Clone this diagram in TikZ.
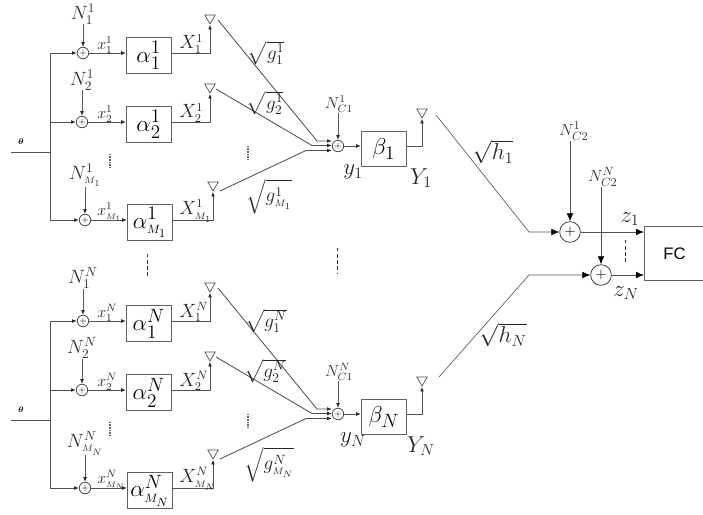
\documentclass[tikz,border=0pt]{standalone}
\usepackage{amsmath}
\usepackage{fontspec}
\setsansfont{Liberation Sans}
\usetikzlibrary{shapes.geometric,arrows.meta}
\tikzset{
  wire/.style={draw=black!68,line width=0.65pt},
  arr/.style={wire,-{Latex[length=3.6pt,width=2.8pt,black!85]}},
  bigarr/.style={wire,-{Latex[length=6pt,width=5pt,black]}},
  thinwire/.style={draw=black!65,line width=0.5pt},
  sumnode/.style={circle,draw=black!75,line width=0.55pt,minimum size=8.6pt,inner sep=0pt,font=\fontsize{6}{6}\selectfont},
  bigsum/.style={circle,draw=black!75,line width=0.6pt,minimum size=15.5pt,inner sep=0pt,font=\fontsize{11}{11}\selectfont},
  blockbox/.style={rectangle,draw=black!62,line width=0.65pt,inner sep=0pt,minimum width=33.5pt,minimum height=26.5pt,font=\fontsize{19}{20}\selectfont},
  antenna/.style={regular polygon,regular polygon sides=3,shape border rotate=180,draw=black!70,line width=0.5pt,minimum size=9pt,inner sep=0pt},
  noise/.style={inner sep=0pt,font=\fontsize{14}{14}\selectfont,text=black!80},
  smalllab/.style={inner sep=0pt,font=\fontsize{12}{12}\selectfont,text=black!85},
  outlab/.style={inner sep=0pt,font=\fontsize{13.5}{14}\selectfont,text=black!85},
  gainlab/.style={inner sep=0pt,font=\fontsize{14}{14}\selectfont,text=black!85},
  portlab/.style={inner sep=0pt,font=\fontsize{17}{17}\selectfont,text=black!85},
  thetalab/.style={inner sep=0pt,font=\fontsize{6}{6}\selectfont},
  dashv/.style={draw=black!80,line width=0.6pt,dash pattern=on 2.6pt off 2pt},
  dotv/.style={draw=black!60,line width=1.2pt,dash pattern=on 0.6pt off 0.6pt},
}
% #1 prefix, #2 id, #3 sum x, #4 y, #5 box left, #6 antenna x, #7 noise label y, #8 subscript
\newcommand{\BranchIn}[8]{%
  \node[sumnode] (#1s#2) at (#3,#4) {$+$};
  \coordinate (#1b#2) at (50,#4);
  \node[noise] (#1n#2) at (#3,#7) {$N_{#8}^{\curS}$};
  \draw[arr] (#1b#2) -- (#1s#2);
  \draw[arr,thinwire] (#1n#2.south -| #1s#2) -- (#1s#2);
  \node[smalllab,anchor=west] (#1x#2) at (97,#4-8) {$x_{#8}^{\curS}$};
  \node[blockbox,anchor=west] (#1a#2) at (#5,#4+2.5) {$\alpha_{#8}^{\curS}$};
  \draw[arr] (#1s#2) -- (#1a#2.west |- #1s#2);
  \coordinate (#1o#2) at (#6,#4);
  \node[antenna] (#1t#2) at (#6,#4-35) {};
  \draw[arr] (#1a#2.east |- #1o#2) -- (#1o#2) -- (#1t#2.corner 1);
  \node[outlab,anchor=west] (#1X#2) at (179,#4-9) {$X_{#8}^{\curS}$};
}
% #1 prefix, #2 y offset, #3 sup, #4 M sub, #5 index sub, #6 y of first noise label
\newcommand{\SensorGroup}[6]{%
  \begin{scope}[yshift=#2]
    \def\curS{#3}
    \coordinate (#1in) at (11,152);
    \coordinate (#1j) at (50,152);
    \node[thetalab] (#1th) at (21,142) {$\boldsymbol{\theta}$};
    \BranchIn{#1}{1}{83}{53}{126}{210}{#6}{1}
    \BranchIn{#1}{2}{82}{122}{126}{210}{80}{2}
    \BranchIn{#1}{3}{85}{220}{127}{213}{175}{\scriptscriptstyle M_{#4}}
    \draw[wire] (#1in) -- (#1j);
    \draw[wire] (#1b1) -- (#1b3);
    \node[sumnode] (#1c) at (338,146) {$+$};
    \node[noise,font=\fontsize{12}{12}\selectfont] (#1nc) at (339,104) {$N_{C1}^{#3}$};
    \draw[arr,thinwire] (#1nc.south -| #1c) -- (#1c);
    \coordinate (#1p1) at (218,20);
    \coordinate (#1q1) at (317,141);
    \coordinate (#1p2) at (216,89);
    \coordinate (#1q2) at (312,145.5);
    \coordinate (#1p3) at (220,191);
    \coordinate (#1q3) at (306,150.5);
    \draw[arr] (#1p1) -- (#1q1) -- (#1q1 -| #1c.west);
    \draw[arr] (#1p2) -- (#1q2) -- (#1q2 -| #1c.west);
    \draw[arr] (#1p3) -- (#1q3) -- (#1q3 -| #1c.west);
    \node[blockbox,anchor=west] (#1beta) at (361,149) {$\beta_{#5}$};
    \draw[arr] (#1c) -- (#1beta.west |- #1c);
    \coordinate (#1bo) at (422,146);
    \node[antenna] (#1bt) at (422,112) {};
    \draw[arr] (#1beta.east |- #1bo) -- (#1bo) -- (#1bt.corner 1);
    \node[gainlab] (#1g1) at (266,53) {$\sqrt{g_1^{#3}}$};
    \node[gainlab] (#1g2) at (265,103) {$\sqrt{g_2^{#3}}$};
    \node[gainlab] (#1g3) at (269,197) {$\sqrt{g_{\scriptscriptstyle M_{#4}}^{#3}}$};
    \node[portlab] (#1y) at (353,172) {$y_{#5}$};
    \node[portlab] (#1Y) at (421,178) {$Y_{#5}$};
  \end{scope}
}
\begin{document}
\begin{tikzpicture}[x=0.75pt,y=-0.75pt]
\useasboundingbox (0,0) rectangle (703,514);
\SensorGroup{A}{0pt}{1}{1}{1}{14}
\SensorGroup{B}{-201pt}{N}{N}{N}{10}
% fusion centre
\node[rectangle,draw=black!62,line width=0.65pt,anchor=north west,minimum width=46pt,minimum height=40.5pt,inner sep=0pt,font=\sffamily\fontsize{12.5}{13}\selectfont] (fc) at (644,226) {\hspace{-1pt}FC};
\node[bigsum] (s1) at (570,232) {$+$};
\node[bigsum] (s2) at (601,275) {$+$};
\node[noise,font=\fontsize{13}{13}\selectfont] (nc1) at (574,131) {$N_{C2}^{1}$};
\node[noise,font=\fontsize{13}{13}\selectfont] (nc2) at (603,177) {$N_{C2}^{N}$};
\draw[bigarr,line width=0.5pt] (nc1.south -| s1) -- (s1);
\draw[bigarr,line width=0.5pt] (nc2.south -| s2) -- (s2);
\coordinate (h1a) at (436,115);
\coordinate (h1b) at (529,232);
\coordinate (h2a) at (439,377);
\coordinate (h2b) at (529,275);
\draw[bigarr,thinwire] (h1a) -- (h1b) -- (s1);
\draw[bigarr,thinwire] (h2a) -- (h2b) -- (s2);
\draw[bigarr] (s1) -- (fc.west |- s1);
\draw[bigarr] (s2) -- (fc.west |- s2);
\node[gainlab,font=\fontsize{17}{17}\selectfont] (h1) at (493,152) {$\sqrt{h_1}$};
\node[gainlab,font=\fontsize{17}{17}\selectfont] (hn) at (503,335) {$\sqrt{h_N}$};
\node[portlab] (z1) at (630,219) {$z_1$};
\node[portlab] (zn) at (626,293) {$z_N$};
% ellipses
\draw[dashv] (625,240) -- (625,264);
\draw[dashv] (337,248) -- (337,273);
\draw[dashv] (147,254) -- (147,278);
\draw[dotv] (110,154) -- (110,167);
\draw[dotv] (248,146) -- (248,160);
\draw[dotv] (110,422) -- (110,435);
\draw[dotv] (248,414) -- (248,428);
\end{tikzpicture}
\end{document}
